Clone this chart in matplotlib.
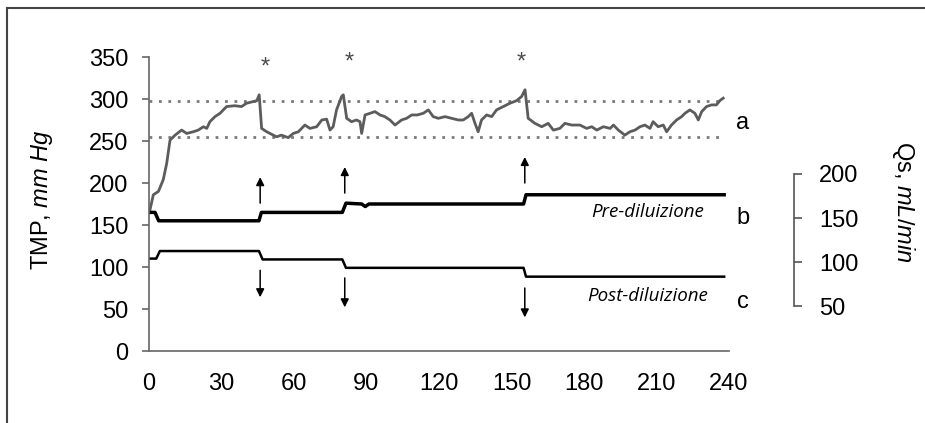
import matplotlib
matplotlib.use("Agg")
import matplotlib.pyplot as plt
from matplotlib.lines import Line2D

plt.rcParams['font.family'] = ['Liberation Sans', 'DejaVu Sans']
plt.rcParams['mathtext.fontset'] = 'custom'
plt.rcParams['mathtext.rm'] = 'Liberation Sans'
plt.rcParams['mathtext.it'] = 'Liberation Sans:italic'

# curve a: TMP (mm Hg) vs time (min)
tmp_t = [0.4, 1.8, 3.9, 5.9, 7.3, 8.7, 10.8, 13.5, 15.6, 18.3, 20.4, 22.5, 23.9, 25.2,
         27.3, 29.4, 32.1, 35.5, 38.3, 40.4, 43.2, 44.6, 45.6, 46.6, 48.7, 51.4, 52.8,
         54.8, 57.6, 59.7, 61.8, 64.5, 66.6, 69.4, 71.5, 73.5, 74.9, 76.2, 77.6, 79.7,
         80.4, 81.8, 83.8, 85.9, 87.3, 88, 89.4, 91.5, 93.5, 95.6, 97.6, 99.7, 101.8,
         104.5, 106.6, 108.7, 111, 113.5, 115.6, 117.6, 119.7, 122.5, 125.2, 128, 130,
         132.1, 133.5, 134.9, 136.2, 137.6, 139.7, 141.8, 143.8, 146.6, 149.4, 152.1,
         154.2, 155.6, 156.9, 159.7, 162.5, 165.2, 167.3, 170, 172.1, 174.9, 178.3,
         181.1, 183.2, 185.3, 188, 190.8, 192.2, 194.2, 196.9, 199, 201.1, 203.2, 205.2,
         207.3, 208.6, 210.7, 212.8, 214.2, 216.2, 218.3, 220.4, 221.8, 223.8, 225.9,
         227.3, 228.7, 230.7, 232.8, 234.8, 236.2, 237.6]
tmp_v = [168, 186, 190, 204, 223, 251, 257, 263, 259, 261, 263, 267, 265, 273,
         279, 283, 291, 292, 291, 295, 297, 298, 305, 265, 261, 257, 255,
         257, 254, 259, 261, 269, 265, 267, 275, 276, 263, 267, 287, 303,
         305, 277, 273, 275, 273, 259, 281, 283, 285, 281, 279, 275, 269,
         275, 277, 281, 281, 283, 287, 279, 277, 279, 277, 275, 275,
         279, 283, 271, 261, 275, 281, 279, 287, 291, 295, 298,
         303, 311, 277, 271, 267, 271, 263, 265, 271, 269, 269,
         265, 267, 263, 267, 265, 269, 263, 257, 261, 263, 267, 269,
         265, 273, 267, 269, 261, 269, 275, 279, 283, 287, 283,
         275, 285, 291, 293, 293, 298, 301]

# curve b: pre-dilution Qs (drawn on the TMP scale)
pre_t = [0, 2.5, 4, 45.5, 46.5, 80, 81.5, 88, 89.5, 91, 155, 156, 238]
pre_v = [165, 165, 155, 155, 165, 165, 176, 175, 172, 175, 175, 186, 186]

# curve c: post-dilution Qs (drawn on the TMP scale)
post_t = [0, 3, 4.5, 45.5, 47, 80, 81.5, 155, 156, 238]
post_v = [110, 110, 119, 119, 109, 109, 99, 99, 88.5, 88.5]

limits = [298, 255]
change_t = [46, 81, 155.5]
up_arrows = [(176, 207), (188, 219), (200, 231)]
down_arrows = [(96, 64), (87, 52), (75, 40)]
star_t = [48, 83, 154]
star_v = [338, 344, 343]

x_ticks = [0, 30, 60, 90, 120, 150, 180, 210, 240]
y_ticks = [0, 50, 100, 150, 200, 250, 300, 350]
qs_ticks = [50, 100, 150, 200]

fig = plt.figure(figsize=(9.25, 4.23), dpi=100)
ax = fig.add_axes([149 / 925, 1 - 351 / 423, 580 / 925, 294 / 423])

for lim in limits:
    ax.plot([0, 236], [lim, lim], color='#7a7a7a', lw=2, linestyle=(0, (1, 2.4)))

ax.plot(tmp_t, tmp_v, color='#5c5c5c', lw=2)
ax.plot(pre_t, pre_v, color='black', lw=2.5)
ax.plot(post_t, post_v, color='black', lw=1.8)

for t, (a, b) in zip(change_t, up_arrows):
    ax.annotate('', xy=(t, b), xytext=(t, a),
                arrowprops=dict(arrowstyle='-|>', color='black', lw=1.1,
                                mutation_scale=12, shrinkA=0, shrinkB=0))
for t, (a, b) in zip(change_t, down_arrows):
    ax.annotate('', xy=(t, b), xytext=(t, a),
                arrowprops=dict(arrowstyle='-|>', color='black', lw=1.1,
                                mutation_scale=12, shrinkA=0, shrinkB=0))

for t, v in zip(star_t, star_v):
    ax.text(t, v, '*', fontsize=17, color='#4a4a4a', ha='center', va='center')

ax.text(245.8, 272, 'a', fontsize=17, ha='center', va='center', clip_on=False)
ax.text(245.8, 158, 'b', fontsize=17, ha='center', va='center', clip_on=False)
ax.text(245.8, 58, 'c', fontsize=17, ha='center', va='center', clip_on=False)

ax.text(206.5, 165, 'Pre-diluizione', fontsize=13.5, family='Open Sans', style='italic',
        ha='center', va='center')
ax.text(206.5, 66, 'Post-diluizione', fontsize=13.5, family='Open Sans', style='italic',
        ha='center', va='center')

ax.set_xlim(0, 240)
ax.set_ylim(0, 350)
ax.set_xticks(x_ticks)
ax.set_yticks(y_ticks)
for s in ['top', 'right']:
    ax.spines[s].set_visible(False)
for s in ['left', 'bottom']:
    ax.spines[s].set_color('#666666')
    ax.spines[s].set_linewidth(1.2)
ax.tick_params(axis='y', length=5, width=1.2, color='#666666', pad=10, labelsize=17)
ax.tick_params(axis='x', length=0, pad=16, labelsize=17)

# right hand Qs scale
ax2 = fig.add_axes([0.80, 1 - 306 / 423, 794 / 925 - 0.80, 132 / 423])
ax2.set_ylim(50, 200)
ax2.set_yticks(qs_ticks)
ax2.set_xticks([])
for s in ['top', 'bottom', 'left']:
    ax2.spines[s].set_visible(False)
ax2.spines['right'].set_color('#555555')
ax2.spines['right'].set_linewidth(1.2)
ax2.patch.set_visible(False)
ax2.yaxis.tick_right()
ax2.tick_params(axis='y', length=6, width=1.2, color='#555555', pad=12, labelsize=17)

fig.text(42 / 925, 1 - 200 / 423, r'TMP, $\mathit{mm\ Hg}$', rotation=90,
         fontsize=17, ha='center', va='center')
fig.text(903 / 925, 1 - 202 / 423, r'Qs, $\mathit{mL/min}$', rotation=-90,
         fontsize=17, ha='center', va='center')

# frame around the picture
fig.add_artist(Line2D([7 / 925, 7 / 925], [0, 1 - 8 / 423], color='#444444', lw=1.5))
fig.add_artist(Line2D([7 / 925, 1], [1 - 8 / 423, 1 - 8 / 423], color='#444444', lw=1.5))

fig.savefig('out.png', dpi=100)
